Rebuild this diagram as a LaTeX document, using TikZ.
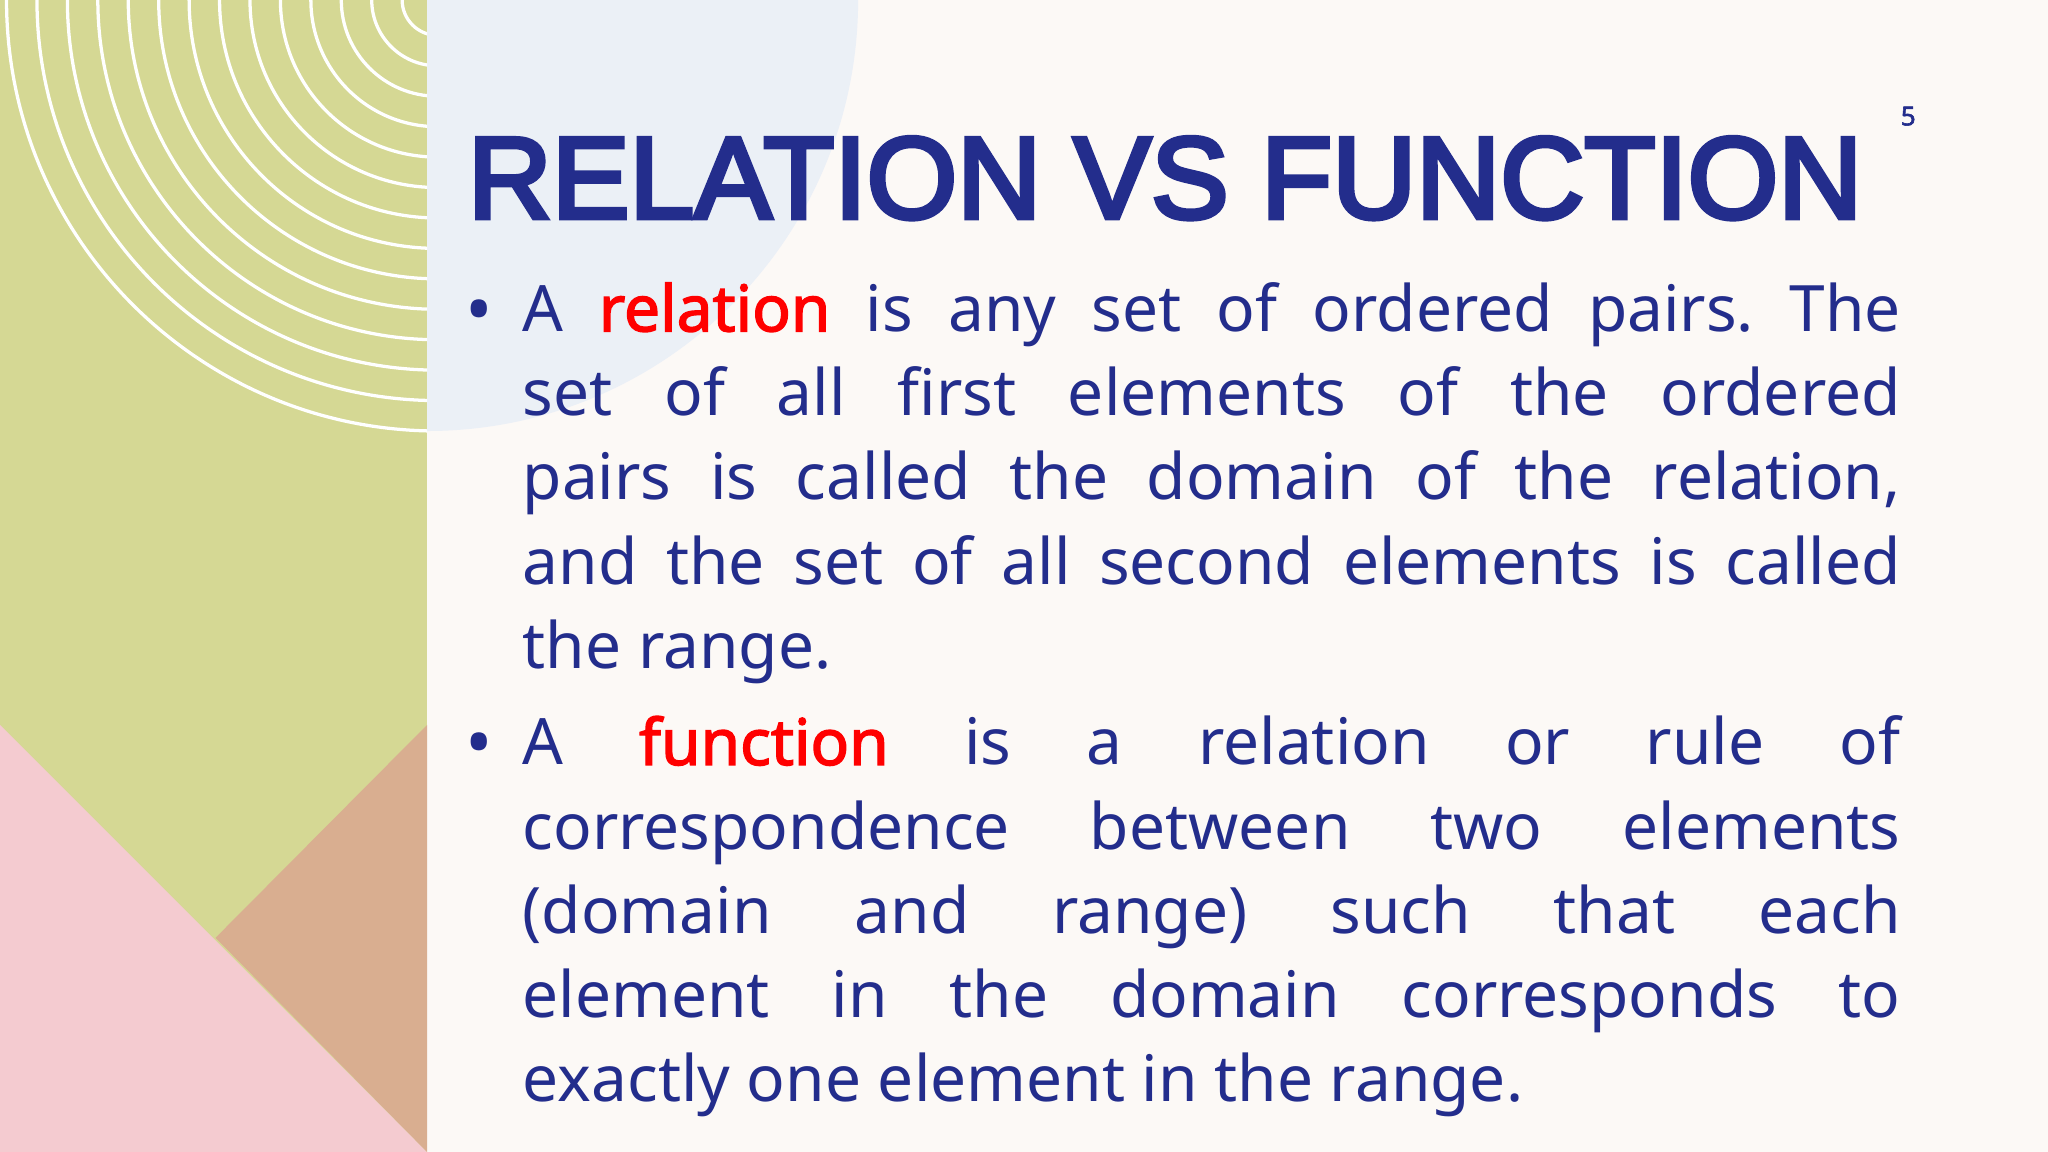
\documentclass[tikz,border=0pt]{standalone}
\usepackage{fontspec}
\setmainfont{Noto Sans}
\newfontfamily\bfn[FakeBold=2.2]{Noto Sans}
\newfontfamily\titlefont[FakeBold=4]{Liberation Sans}
\definecolor{bgc}{HTML}{FCF9F6}
\definecolor{circ}{HTML}{EBF0F6}
\definecolor{grn}{HTML}{D5D894}
\definecolor{pnk}{HTML}{F4CBD0}
\definecolor{brn}{HTML}{D9AE90}
\definecolor{navy}{HTML}{232D8C}
\definecolor{hl}{HTML}{FF0000}
\tikzset{body/.style={anchor=north west,text width=1055pt,inner sep=0pt,align=justify,text=navy,font=\fontsize{49}{64.5}\selectfont\frenchspacing},
bul/.style={anchor=base,text=navy,font=\fontsize{56}{64}\selectfont,inner sep=0pt}}
\begin{document}
\begin{tikzpicture}[x=1pt,y=-1pt]
\useasboundingbox (0,0) rectangle (1568,882);
\fill[bgc] (0,0) rectangle (1568,882);
\fill[circ] (327,0) circle[radius=330];
\fill[grn] (0,0) rectangle (327,882);
\begin{scope}
\clip (0,0) rectangle (327,882);
\foreach \k in {0,...,14} \draw[white,line width=2.5pt] (335,0) circle[radius=330-\k*23.3];
\end{scope}
\fill[pnk] (0,555) -- (327,882) -- (0,882) -- cycle;
\fill[brn] (327,555) -- (165,718) -- (327,882) -- cycle;
\node[anchor=base west,inner sep=0pt,text=navy] (title) at (358,167) {\resizebox{1067pt}{62pt}{\titlefont RELATION VS FUNCTION}};
\node[anchor=base,inner sep=0pt,text=navy,font=\fontsize{20}{22}\selectfont\bfn] (pg) at (1461,96) {5};
\node[body] (p1) at (400,216) {A \textcolor{hl}{\bfn relation} is any set of ordered pairs. The\linebreak set of all first elements of the ordered\linebreak pairs is called the domain of the relation,\linebreak and the set of all second elements is called\linebreak the range.};
\node[body] (p2) at (400,548) {A \textcolor{hl}{\bfn function} is a relation or rule of\linebreak correspondence between two elements\linebreak (domain and range) such that each\linebreak element in the domain corresponds to\linebreak exactly one element in the range.};
\node[bul] (b1) at (367,257) {•};
\node[bul] (b2) at (367,588) {•};
\end{tikzpicture}
\end{document}
